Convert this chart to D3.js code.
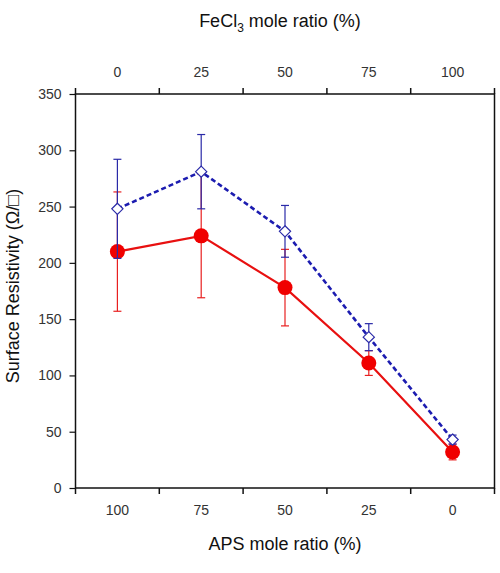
<!DOCTYPE html>
<html>
<head>
<meta charset="utf-8">
<script src="https://cdn.jsdelivr.net/npm/d3@7"></script>
<style>
  body { margin: 0; background: #fff; }
  text { font-family: "Liberation Sans", Arial, sans-serif; }
</style>
</head>
<body>
<div id="chart"></div>
<script>
// categories (bottom axis = APS, top axis = FeCl3)
var apsLabels = ["100", "75", "50", "25", "0"];
var feclLabels = ["0", "25", "50", "75", "100"];
var yTicks = [0, 50, 100, 150, 200, 250, 300, 350];

// series values
var redValues = [210, 224, 178, 111, 32];
var redErrors = [53, 55, 34, 11, 7];
var blueValues = [248, 281, 228, 134, 43];
var blueErrors = [44, 33, 23, 12, 4];

var width = 500, height = 573;
var plotLeft = 75.5, plotRight = 494.5, plotTop = 94, plotBottom = 488;

var svg = d3.select("#chart")
  .append("svg")
  .attr("width", width)
  .attr("height", height);

var x = d3.scaleBand()
  .domain(d3.range(apsLabels.length))
  .range([plotLeft, plotRight])
  .paddingInner(0)
  .paddingOuter(0);

var y = d3.scaleLinear()
  .domain([0, 350])
  .range([plotBottom, plotTop]);

function cx(i) { return x(i) + x.bandwidth() / 2; }

// frame
svg.append("rect")
  .attr("x", plotLeft)
  .attr("y", plotTop)
  .attr("width", plotRight - plotLeft)
  .attr("height", plotBottom - plotTop)
  .style("fill", "none")
  .style("stroke", "#111")
  .style("stroke-width", 1.5);

// y axis
var yAxis = d3.axisLeft(y).tickValues(yTicks).tickSize(6).tickPadding(8);
var gy = svg.append("g")
  .attr("transform", "translate(" + plotLeft + ",0)")
  .call(yAxis);
gy.select(".domain").remove();
gy.selectAll("line").style("stroke", "#111").style("stroke-width", 1.2);
gy.selectAll("text").style("font-size", "14px").style("fill", "#333")
  .style("font-family", "'Liberation Sans', Arial, sans-serif");

// boundary ticks for the band axes (bottom + top)
var bounds = d3.range(apsLabels.length + 1).map(function(i) {
  return plotLeft + i * x.bandwidth();
});

svg.append("g").selectAll("line")
  .data(bounds)
  .enter().append("line")
  .attr("x1", function(d) { return d; })
  .attr("x2", function(d) { return d; })
  .attr("y1", plotBottom)
  .attr("y2", plotBottom + 6)
  .style("stroke", "#111")
  .style("stroke-width", 1.5);

svg.append("g").selectAll("line")
  .data(bounds)
  .enter().append("line")
  .attr("x1", function(d) { return d; })
  .attr("x2", function(d) { return d; })
  .attr("y1", plotTop)
  .attr("y2", plotTop - 6)
  .style("stroke", "#111")
  .style("stroke-width", 1.5);

svg.append("g").selectAll("text")
  .data(apsLabels)
  .enter().append("text")
  .attr("x", function(d, i) { return cx(i); })
  .attr("y", 515)
  .attr("text-anchor", "middle")
  .style("font-size", "14px")
  .style("fill", "#333")
  .text(function(d) { return d; });

svg.append("g").selectAll("text")
  .data(feclLabels)
  .enter().append("text")
  .attr("x", function(d, i) { return cx(i); })
  .attr("y", 77)
  .attr("text-anchor", "middle")
  .style("font-size", "14px")
  .style("fill", "#333")
  .text(function(d) { return d; });

// axis titles
svg.append("text")
  .attr("x", 285)
  .attr("y", 550)
  .attr("text-anchor", "middle")
  .style("font-size", "18px")
  .style("fill", "#111")
  .text("APS mole ratio (%)");

var topTitle = svg.append("text")
  .attr("x", 280)
  .attr("y", 27)
  .attr("text-anchor", "middle")
  .style("font-size", "18px")
  .style("fill", "#111");
topTitle.append("tspan").text("FeCl");
topTitle.append("tspan").attr("dy", 5).style("font-size", "12px").text("3");
topTitle.append("tspan").attr("dy", -5).text(" mole ratio (%)");

svg.append("text")
  .attr("transform", "translate(19,286) rotate(-90)")
  .attr("text-anchor", "middle")
  .style("font-size", "18px")
  .style("fill", "#111")
  .text("Surface Resistivity (\u03A9/\u25A1)");

// error bars
function errorBars(values, errors, color) {
  var g = svg.append("g");
  var d = values.map(function(v, i) { return {i: i, v: v, e: errors[i]}; });
  g.selectAll(".bar").data(d).enter().append("line")
    .attr("x1", function(p) { return cx(p.i); })
    .attr("x2", function(p) { return cx(p.i); })
    .attr("y1", function(p) { return y(p.v - p.e); })
    .attr("y2", function(p) { return y(p.v + p.e); })
    .style("stroke", color).style("stroke-width", 1.2);
  [-1, 1].forEach(function(s) {
    g.selectAll(".cap" + (s + 1)).data(d).enter().append("line")
      .attr("x1", function(p) { return cx(p.i) - 4; })
      .attr("x2", function(p) { return cx(p.i) + 4; })
      .attr("y1", function(p) { return y(p.v + s * p.e); })
      .attr("y2", function(p) { return y(p.v + s * p.e); })
      .style("stroke", color).style("stroke-width", 1.2);
  });
}

var line = d3.line()
  .x(function(d, i) { return cx(i); })
  .y(function(d) { return y(d); });

errorBars(redValues, redErrors, "#e82020");

svg.append("path")
  .datum(redValues)
  .attr("d", line)
  .style("fill", "none")
  .style("stroke", "#e81010")
  .style("stroke-width", 2.2);

svg.append("g").selectAll("circle")
  .data(redValues)
  .enter().append("circle")
  .attr("cx", function(d, i) { return cx(i); })
  .attr("cy", function(d) { return y(d); })
  .attr("r", 7.5)
  .style("fill", "#f00000");

errorBars(blueValues, blueErrors, "#2a2aa8");

svg.append("path")
  .datum(blueValues)
  .attr("d", line)
  .style("fill", "none")
  .style("stroke", "#1c1cb0")
  .style("stroke-width", 2.6)
  .style("stroke-dasharray", "5,3");

svg.append("g").selectAll("path")
  .data(blueValues)
  .enter().append("path")
  .attr("d", d3.symbol().type(d3.symbolDiamond2).size(80))
  .attr("transform", function(d, i) { return "translate(" + cx(i) + "," + y(d) + ")"; })
  .style("fill", "#fff")
  .style("stroke", "#2a2aa8")
  .style("stroke-width", 1.2);
</script>
</body>
</html>
